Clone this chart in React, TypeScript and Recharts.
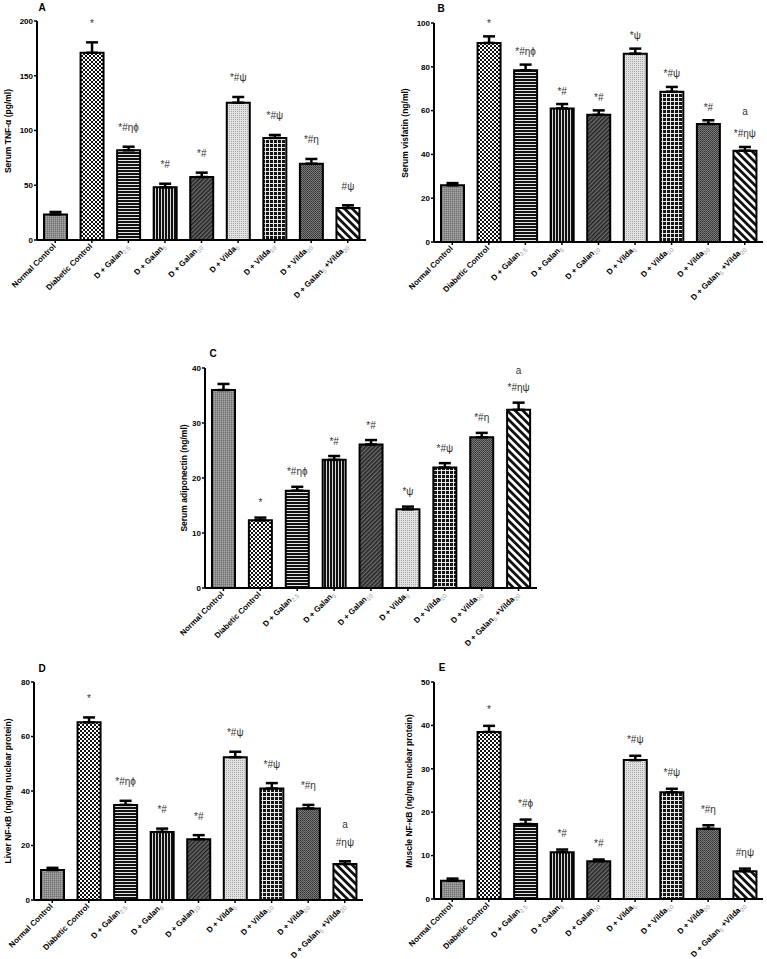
import React from 'react';
import { BarChart, Bar, XAxis, YAxis, ErrorBar, Cell, LabelList } from 'recharts';

// group names, {..} marks a subscript dose
const groups = [
  'Normal Control',
  'Diabetic Control',
  'D + Galan{2.5}',
  'D + Galan{5}',
  'D + Galan{10}',
  'D + Vilda{5}',
  'D + Vilda{10}',
  'D + Vilda{20}',
  'D + Galan{5} +Vilda{20}',
];

const tnfMean = [23.4, 171, 81.9, 48.1, 57.5, 125.4, 93.2, 69.7, 29.2];
const tnfSem = [2.2, 9.5, 3.3, 3.3, 4.0, 5.2, 2.7, 4.3, 2.5];
const tnfSig = ['', '*', '*#ηϕ', '*#', '*#', '*#ψ', '*#ψ', '*#η', '#ψ'];

const visMean = [25.9, 90.9, 78.4, 61.0, 58.1, 86.0, 68.6, 53.9, 41.7];
const visSem = [1.0, 3.0, 2.6, 2.0, 2.0, 2.3, 2.2, 1.7, 1.7];
const visSig = ['', '*', '*#ηϕ', '*#', '*#', '*ψ', '*#ψ', '*#', '*#ηψ'];
const visExtra = ['', '', '', '', '', '', '', '', 'a'];

const adiMean = [36.0, 12.3, 17.7, 23.3, 26.1, 14.3, 21.9, 27.4, 32.4];
const adiSem = [1.1, 0.5, 0.7, 0.7, 0.8, 0.5, 0.8, 0.8, 1.3];
const adiSig = ['', '*', '*#ηϕ', '*#', '*#', '*ψ', '*#ψ', '*#η', '*#ηψ'];
const adiExtra = ['', '', '', '', '', '', '', '', 'a'];

const liverMean = [11.0, 65.2, 34.9, 25.0, 22.3, 52.4, 40.9, 33.6, 13.2];
const liverSem = [0.8, 1.8, 1.5, 1.2, 1.5, 2.0, 2.0, 1.3, 1.0];
const liverSig = ['', '*', '*#ηϕ', '*#', '*#', '*#ψ', '*#ψ', '*#η', '#ηψ'];
const liverExtra = ['', '', '', '', '', '', '', '', 'a'];

const muscleMean = [4.2, 38.5, 17.3, 10.8, 8.7, 32.0, 24.6, 16.2, 6.4];
const muscleSem = [0.5, 1.4, 1.0, 0.6, 0.4, 1.0, 0.8, 0.8, 0.6];
const muscleSig = ['', '*', '*#ϕ', '*#', '*#', '*#ψ', '*#ψ', '*#η', '#ηψ'];

const patternIds = ['pNorm', 'pDiab', 'pG25', 'pG5', 'pG10', 'pV5', 'pV10', 'pV20', 'pCombo'];

const FONT = '"Liberation Sans", Arial, sans-serif';

const Patterns = () => (
  <svg width={0} height={0} style={{ position: 'absolute' }}>
    <defs>
      <pattern id="pNorm" width={2} height={2} patternUnits="userSpaceOnUse">
        <rect width={2} height={2} fill="#8e8e8e" />
        <rect width={1} height={1} fill="#6f6f6f" />
        <rect x={1} y={1} width={1} height={1} fill="#a6a6a6" />
      </pattern>
      <pattern id="pDiab" width={4} height={4} patternUnits="userSpaceOnUse">
        <rect width={4} height={4} fill="#fff" />
        <rect width={2} height={2} fill="#111" />
        <rect x={2} y={2} width={2} height={2} fill="#111" />
      </pattern>
      <pattern id="pG25" width={4} height={3} patternUnits="userSpaceOnUse">
        <rect width={4} height={3} fill="#111" />
        <rect y={2} width={4} height={1} fill="#e4e4e4" />
      </pattern>
      <pattern id="pG5" width={3} height={4} patternUnits="userSpaceOnUse">
        <rect width={3} height={4} fill="#111" />
        <rect x={2} width={1} height={4} fill="#d8d8d8" />
      </pattern>
      <pattern id="pG10" width={3} height={3} patternUnits="userSpaceOnUse" patternTransform="rotate(45)">
        <rect width={3} height={3} fill="#6a6a6a" />
        <rect width={1.5} height={3} fill="#222" />
      </pattern>
      <pattern id="pV5" width={2} height={2} patternUnits="userSpaceOnUse">
        <rect width={2} height={2} fill="#e2e2e2" />
        <rect width={1} height={1} fill="#a9a9a9" />
      </pattern>
      <pattern id="pV10" width={4} height={4} patternUnits="userSpaceOnUse">
        <rect width={4} height={4} fill="#151515" />
        <rect width={4} height={1} fill="#e8e8e8" />
        <rect width={1} height={4} fill="#e8e8e8" />
      </pattern>
      <pattern id="pV20" width={2} height={2} patternUnits="userSpaceOnUse">
        <rect width={2} height={2} fill="#7a7a7a" />
        <rect width={1} height={1} fill="#333" />
        <rect x={1} y={1} width={1} height={1} fill="#444" />
      </pattern>
      <pattern id="pCombo" width={5.5} height={5.5} patternUnits="userSpaceOnUse" patternTransform="rotate(-45)">
        <rect width={5.5} height={5.5} fill="#fff" />
        <rect width={2.8} height={5.5} fill="#111" />
      </pattern>
    </defs>
  </svg>
);

const GroupTick = (props: any) => {
  const { x, y, payload } = props;
  const parts = String(payload.value).split(/(\{[^}]*\})/).filter(Boolean);
  return (
    <g transform={`translate(${x + 1},${y + 2}) rotate(-45)`}>
      <text x={0} y={0} dy={3} textAnchor="end" fontSize={8} fontWeight="bold" fill="#000" fontFamily={FONT}>
        {parts.map((s, k) =>
          s.startsWith('{') ? (
            <tspan key={k} fontSize={6} fontWeight="normal" fill="#9a9a9a" dy={2}>
              {s.slice(1, -1)}
            </tspan>
          ) : (
            <tspan key={k} dy={k > 0 ? -2 : 0}>
              {s}
            </tspan>
          )
        )}
      </text>
    </g>
  );
};

type PanelProps = {
  letter: string;
  letterX: number;
  letterY: number;
  title: string;
  titleX: number;
  mean: number[];
  sem: number[];
  sig: string[];
  extra?: string[];
  yMax: number;
  ticks: number[];
  axisX: number;
  plotTop: number;
  plotBottom: number;
  plotRight: number;
  sigGap: number;
  extraGap: number;
};

const Panel = (p: PanelProps) => {
  const data = groups.map((g, i) => ({ group: g, mean: p.mean[i], err: [0, p.sem[i]], sig: p.sig[i] }));
  const yw = 40;
  const left = p.axisX - yw;
  const top = p.plotTop - 10;
  const width = p.plotRight + 4 - left;
  const height = p.plotBottom + 90 - top;

  const renderSig = (lp: any) => {
    const i = Number(lp.index);
    const txt = p.sig[i];
    const ex = p.extra ? p.extra[i] : '';
    if (!txt && !ex) return null;
    const bx = Number(lp.x);
    const by = Number(lp.y);
    const bw = Number(lp.width);
    const bh = Number(lp.height);
    const ppu = bh / p.mean[i];
    const errTop = by - p.sem[i] * ppu;
    const cx = bx + bw / 2;
    const cy = errTop - p.sigGap;
    return (
      <g>
        <text x={cx} y={cy} textAnchor="middle" dominantBaseline="central" fontSize={10} fill="#333" fontFamily={FONT}>
          {txt}
        </text>
        {ex ? (
          <text x={cx} y={cy - p.extraGap} textAnchor="middle" dominantBaseline="central" fontSize={10} fill="#333" fontFamily={FONT}>
            {ex}
          </text>
        ) : null}
      </g>
    );
  };

  return (
    <>
      <div style={{ position: 'absolute', left, top }}>
        <BarChart width={width} height={height} data={data} margin={{ top: 10, right: 4, left: 0, bottom: 0 }}>
          <XAxis
            dataKey="group"
            height={90}
            interval={0}
            tick={<GroupTick />}
            tickSize={3}
            axisLine={{ stroke: '#000', strokeWidth: 2 }}
            tickLine={{ stroke: '#000', strokeWidth: 1.5 }}
          />
          <YAxis
            width={yw}
            domain={[0, p.yMax]}
            ticks={p.ticks}
            tickSize={3}
            tickMargin={1}
            axisLine={{ stroke: '#000', strokeWidth: 2 }}
            tickLine={{ stroke: '#000', strokeWidth: 1.5 }}
            tick={{ fontSize: 8, fontWeight: 'bold', fill: '#000', fontFamily: FONT }}
          />
          <Bar dataKey="mean" barSize={23} stroke="#000" strokeWidth={2} isAnimationActive={false}>
            {data.map((d, i) => (
              <Cell key={d.group} fill={`url(#${patternIds[i]})`} />
            ))}
            <ErrorBar dataKey="err" direction="y" width={6} stroke="#000" strokeWidth={2.5} isAnimationActive={false} />
            <LabelList dataKey="sig" content={renderSig} />
          </Bar>
        </BarChart>
      </div>
      <div
        style={{
          position: 'absolute',
          left: p.titleX,
          top: (p.plotTop + p.plotBottom) / 2,
          transform: 'translate(-50%,-50%) rotate(-90deg)',
          whiteSpace: 'nowrap',
          fontSize: 8.5,
          fontWeight: 'bold',
          fontFamily: FONT,
        }}
      >
        {p.title}
      </div>
      <div
        style={{
          position: 'absolute',
          left: p.letterX,
          top: p.letterY,
          transform: 'translate(-50%,-50%)',
          fontSize: 10,
          fontWeight: 'bold',
          fontFamily: FONT,
        }}
      >
        {p.letter}
      </div>
    </>
  );
};

export default function App() {
  return (
    <div style={{ position: 'absolute', left: 0, top: 0, width: 767, height: 959, background: '#fff', overflow: 'hidden' }}>
      <Patterns />
      <Panel
        letter="A" letterX={42} letterY={7}
        title="Serum TNF-α (pg/ml)" titleX={8}
        mean={tnfMean} sem={tnfSem} sig={tnfSig}
        yMax={200} ticks={[0, 50, 100, 150, 200]}
        axisX={37} plotTop={21} plotBottom={240} plotRight={366}
        sigGap={19} extraGap={18}
      />
      <Panel
        letter="B" letterX={441} letterY={8}
        title="Serum visfatin (ng/ml)" titleX={405}
        mean={visMean} sem={visSem} sig={visSig} extra={visExtra}
        yMax={100} ticks={[0, 20, 40, 60, 80, 100]}
        axisX={434} plotTop={23} plotBottom={242} plotRight={763}
        sigGap={13} extraGap={22}
      />
      <Panel
        letter="C" letterX={213} letterY={353}
        title="Serum adiponectin (ng/ml)" titleX={184}
        mean={adiMean} sem={adiSem} sig={adiSig} extra={adiExtra}
        yMax={40} ticks={[0, 10, 20, 30, 40]}
        axisX={205} plotTop={368} plotBottom={588} plotRight={537}
        sigGap={15} extraGap={17}
      />
      <Panel
        letter="D" letterX={42} letterY={668}
        title="Liver NF-κB (ng/mg nuclear protein)" titleX={8}
        mean={liverMean} sem={liverSem} sig={liverSig} extra={liverExtra}
        yMax={80} ticks={[0, 20, 40, 60, 80]}
        axisX={34} plotTop={682} plotBottom={900} plotRight={363}
        sigGap={19} extraGap={18}
      />
      <Panel
        letter="E" letterX={442} letterY={667}
        title="Muscle NF-κB (ng/mg nuclear protein)" titleX={409}
        mean={muscleMean} sem={muscleSem} sig={muscleSig}
        yMax={50} ticks={[0, 10, 20, 30, 40, 50]}
        axisX={434} plotTop={682} plotBottom={899} plotRight={763}
        sigGap={16} extraGap={18}
      />
    </div>
  );
}
